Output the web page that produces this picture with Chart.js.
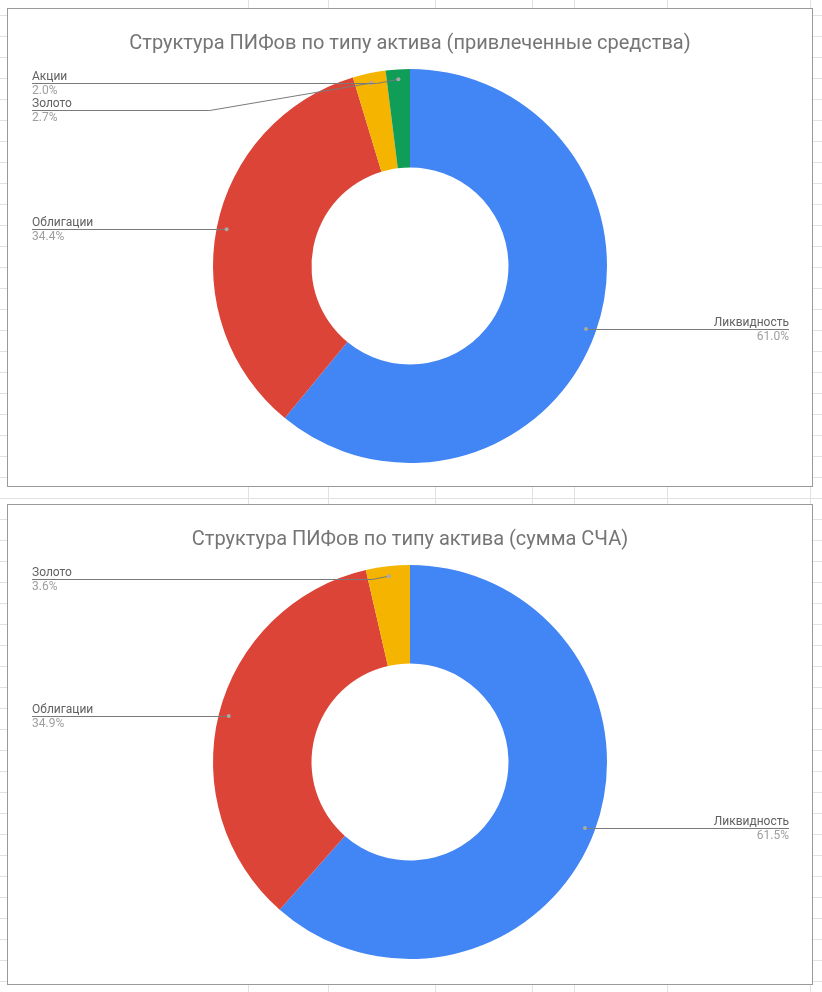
<!DOCTYPE html>
<html>
<head>
<meta charset="utf-8">
<script src="https://cdn.jsdelivr.net/npm/chart.js@4"></script>
<style>
  html, body { margin: 0; padding: 0; background: #fff; }
  body { width: 822px; height: 992px; position: relative; overflow: hidden; font-family: Roboto, sans-serif; }
  #grid {
    position: absolute; left: 0; top: 0; width: 822px; height: 992px;
    background-image: repeating-linear-gradient(to bottom, transparent 0, transparent 15px, #e2e2e2 15px, #e2e2e2 16px, transparent 16px, transparent 21px);
  }
  .vline { position: absolute; top: 0; width: 1px; height: 992px; background: #e2e2e2; }
  .box {
    position: absolute; left: 7px; width: 804px; background: #fff;
    border: 1px solid #9a9a9a;
  }
  .box canvas { display: block; }
</style>
</head>
<body>
<div id="grid"></div>
<div class="vline" style="left:248px"></div>
<div class="vline" style="left:328px"></div>
<div class="vline" style="left:435px"></div>
<div class="vline" style="left:532px"></div>
<div class="vline" style="left:574px"></div>
<div class="vline" style="left:667px"></div>
<div class="vline" style="left:810px"></div>

<div class="box" style="top:8px;height:477px"><canvas id="chart1"></canvas></div>
<div class="box" style="top:504px;height:479px"><canvas id="chart2"></canvas></div>

<script>
// Данные диаграмм (доли в %, как на картинке)
const categories1 = ['Ликвидность', 'Облигации', 'Золото', 'Акции'];
const values1 = [60.96, 34.36, 2.70, 1.98];
const title1 = 'Структура ПИФов по типу актива (привлеченные средства)';

const categories2 = ['Ликвидность', 'Облигации', 'Золото'];
const values2 = [61.5, 34.9, 3.6];
const title2 = 'Структура ПИФов по типу актива (сумма СЧА)';

// Цвета как в Google Sheets
const sliceColors = ['#4285f4', '#db4437', '#f4b400', '#0f9d58'];

// Подписи с выносками (как у Google)
const calloutPlugin = {
    id: 'callouts',
    afterDatasetsDraw(chart) {
        const ctx = chart.ctx;
        const meta = chart.getDatasetMeta(0);
        const data = chart.data.datasets[0].data;
        const total = data.reduce((a, b) => a + b, 0);
        const area = chart.chartArea;
        const leftX = 24, rightX = chart.width - 23;
        const items = meta.data.map((arc, i) => {
            const p = arc.getProps(['x', 'y', 'startAngle', 'endAngle', 'outerRadius'], true);
            const mid = (p.startAngle + p.endAngle) / 2;
            const r = p.outerRadius - 10;
            return {
                label: chart.data.labels[i],
                pct: (data[i] / total * 100).toFixed(1) + '%',
                dx: p.x + Math.cos(mid) * r,
                dy: p.y + Math.sin(mid) * r,
                right: Math.cos(mid) > 0
            };
        });
        [true, false].forEach(side => {
            const list = items.filter(it => it.right === side).sort((a, b) => a.dy - b.dy);
            let prev = area.top + 14 - 27;
            list.forEach(it => {
                it.ly = Math.max(it.dy, prev + 27);
                prev = it.ly;
            });
        });
        ctx.save();
        items.forEach(it => {
            const x0 = it.right ? rightX : leftX;
            const slant = Math.abs(it.ly - it.dy) * 6;
            const bend = it.right ? it.dx + slant : it.dx - slant;
            ctx.strokeStyle = '#7a7a7a';
            ctx.lineWidth = 1;
            ctx.beginPath();
            ctx.moveTo(x0, Math.round(it.ly) + 0.5);
            ctx.lineTo(bend, Math.round(it.ly) + 0.5);
            ctx.lineTo(it.dx, it.dy);
            ctx.stroke();
            ctx.fillStyle = '#a8a8a8';
            ctx.beginPath();
            ctx.arc(it.dx, it.dy, 2, 0, Math.PI * 2);
            ctx.fill();
            ctx.font = '12px Roboto';
            ctx.textAlign = it.right ? 'right' : 'left';
            ctx.textBaseline = 'alphabetic';
            ctx.fillStyle = '#616161';
            ctx.fillText(it.label, x0, it.ly - 3);
            ctx.textBaseline = 'top';
            ctx.fillStyle = '#9e9e9e';
            ctx.fillText(it.pct, x0, it.ly + 2);
        });
        ctx.restore();
    }
};

function makeChart(id, labels, values, title, h) {
    const canvas = document.getElementById(id);
    canvas.width = 804;
    canvas.height = h;
    return new Chart(canvas, {
        type: 'doughnut',
        data: {
            labels: labels,
            datasets: [{
                data: values,
                backgroundColor: sliceColors.slice(0, values.length),
                borderWidth: 0
            }]
        },
        options: {
            responsive: false,
            animation: false,
            cutout: '50%',
            layout: { padding: { top: 0, bottom: h - 454, left: 0, right: 0 } },
            plugins: {
                legend: { display: false },
                tooltip: { enabled: false },
                title: {
                    display: true,
                    text: title,
                    color: '#757575',
                    font: { family: 'Roboto', size: 20, weight: 'normal' },
                    padding: { top: 23, bottom: 13 }
                }
            }
        },
        plugins: [calloutPlugin]
    });
}

makeChart('chart1', categories1, values1, title1, 477);
makeChart('chart2', categories2, values2, title2, 479);
</script>
</body>
</html>
